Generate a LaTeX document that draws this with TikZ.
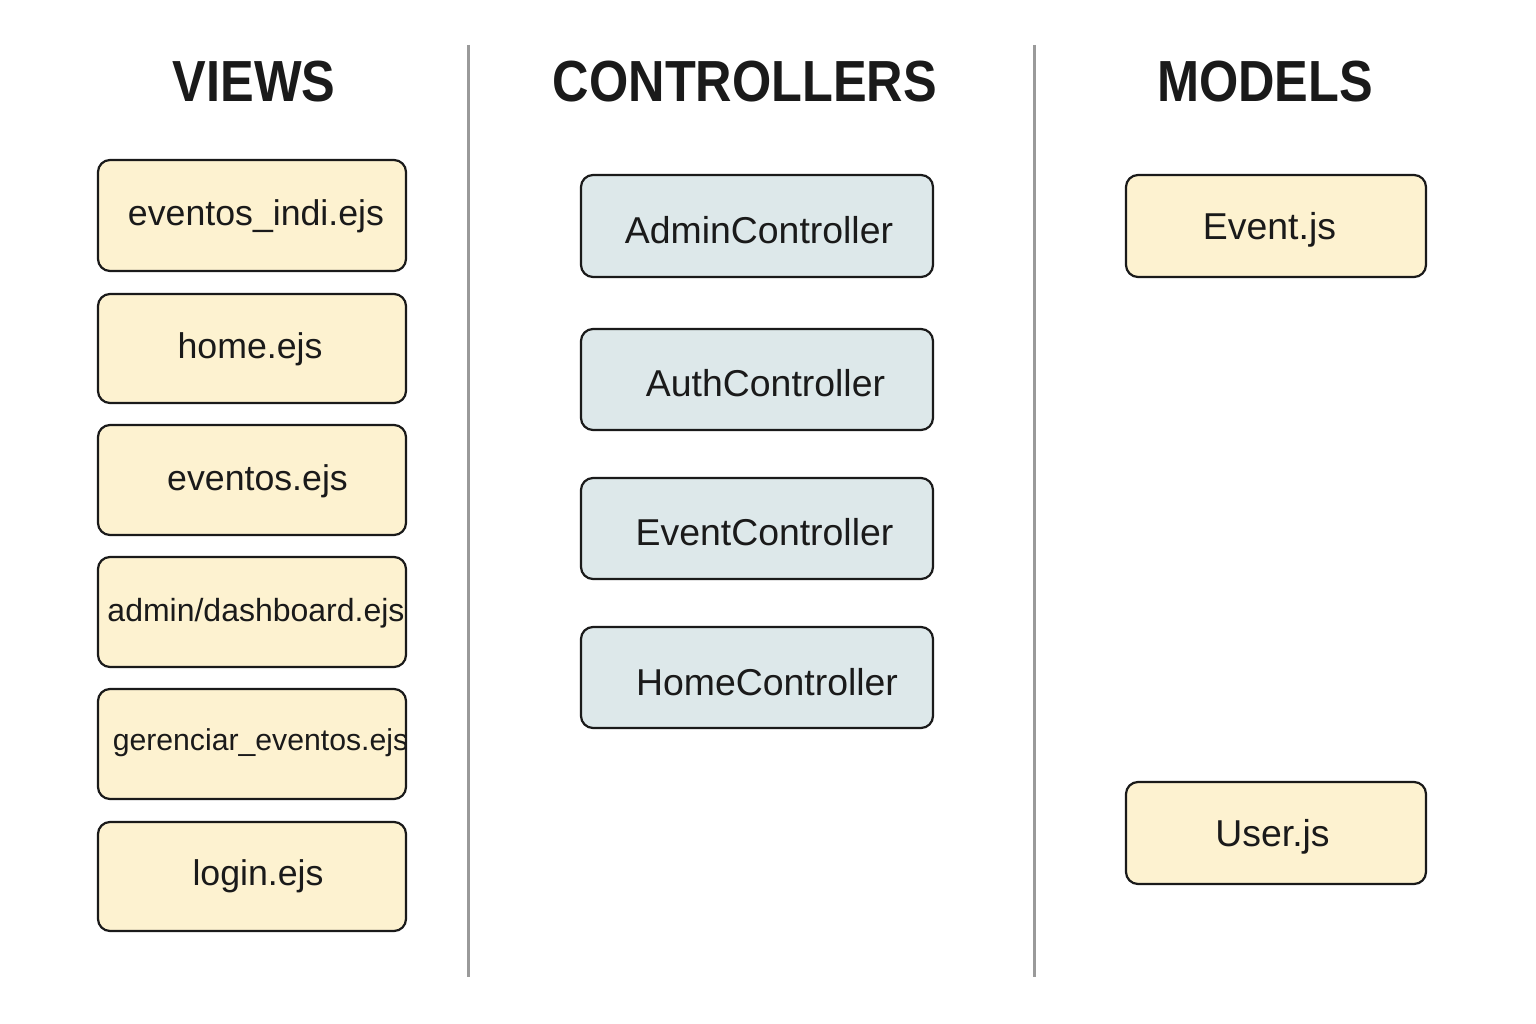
\documentclass[tikz,border=0pt]{standalone}
\usepackage{fontspec}
\setmainfont{Liberation Sans}
\definecolor{viewfill}{HTML}{FDF2D0}
\definecolor{ctrlfill}{HTML}{DDE8EA}
\definecolor{divider}{HTML}{9A9A9A}
\definecolor{ink}{HTML}{1A1A1A}
\begin{document}
\begin{tikzpicture}[x=1pt,y=-1pt,
  box/.style={draw=ink, line width=2.2pt, rounded corners=12pt, inner sep=0pt},
  vbox/.style={box, fill=viewfill, minimum width=308pt},
  cbox/.style={box, fill=ctrlfill, minimum width=352pt},
  mbox/.style={box, fill=viewfill, minimum width=300pt},
  lbl/.style={inner sep=0pt, text=ink, yshift=-3pt, font=\fontsize{#1}{#1}\selectfont},
  head/.style={inner sep=0pt, text=ink, font=\bfseries\fontsize{58}{58}\selectfont, xscale=0.87},
  div/.style={draw=divider, line width=3pt}
]
\useasboundingbox[fill=white] (0,0) rectangle (1536,1024);

% headings
\node[head] (hv) at (254,82) {VIEWS};
\node[head] (hc) at (745,82) {CONTROLLERS};
\node[head] (hm) at (1265,82) {MODELS};

% dividers
\coordinate (d1t) at (468,45); \coordinate (d1b) at (468,977);
\coordinate (d2t) at (1034,45); \coordinate (d2b) at (1034,977);
\draw[div] (d1t) -- (d1b);
\draw[div] (d2t) -- (d2b);

% views
\node[vbox, minimum height=111pt] (v1) at (252,215.5) {};
\node[vbox, minimum height=109pt] (v2) at (252,348.5) {};
\node[vbox, minimum height=110pt] (v3) at (252,480) {};
\node[vbox, minimum height=110pt] (v4) at (252,612) {};
\node[vbox, minimum height=110pt] (v5) at (252,744) {};
\node[vbox, minimum height=109pt] (v6) at (252,876.5) {};
\node[lbl=35.7] (t1) at (256,213) {eventos\_indi.ejs};
\node[lbl=35.7] (t2) at (250,346) {home.ejs};
\node[lbl=35.7] (t3) at (257.5,478) {eventos.ejs};
\node[lbl=32] (t4) at (256,610) {admin/dashboard.ejs};
\node[lbl=30.2] (t5) at (260.5,740) {gerenciar\_eventos.ejs};
\node[lbl=35.7] (t6) at (258,873) {login.ejs};

% controllers
\node[cbox, minimum height=102pt] (c1) at (757,226) {};
\node[cbox, minimum height=101pt] (c2) at (757,379.5) {};
\node[cbox, minimum height=101pt] (c3) at (757,528.5) {};
\node[cbox, minimum height=101pt] (c4) at (757,677.5) {};
\node[lbl=37.4] (s1) at (759,227) {AdminController};
\node[lbl=37.4] (s2) at (765.5,380) {AuthController};
\node[lbl=37.4] (s3) at (764.5,529) {EventController};
\node[lbl=37.4] (s4) at (767,679) {HomeController};

% models
\node[mbox, minimum height=102pt] (m1) at (1276,226) {};
\node[mbox, minimum height=102pt] (m2) at (1276,833) {};
\node[lbl=37.4] (u1) at (1269.5,227) {Event.js};
\node[lbl=37.4] (u2) at (1272.5,834) {User.js};
\end{tikzpicture}
\end{document}
